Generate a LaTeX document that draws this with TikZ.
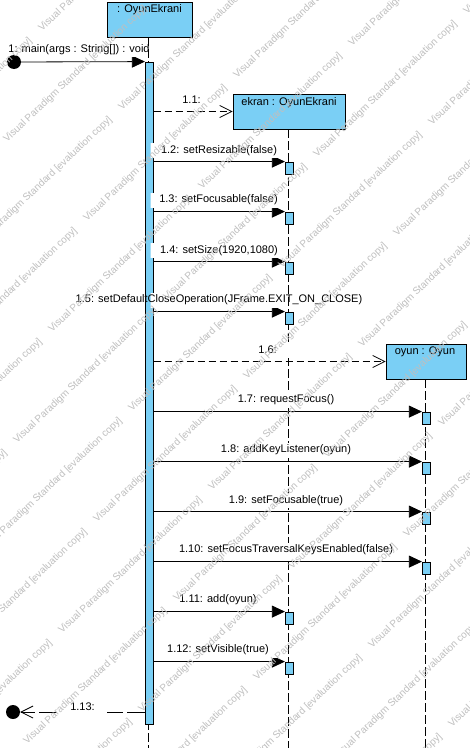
\documentclass[tikz,border=0pt]{standalone}
\usepackage{fontspec}
\setmainfont{Liberation Sans}
\usetikzlibrary{arrows.meta,calc}
\definecolor{vpblue}{RGB}{122,207,245}
\pgfdeclarelayer{base}
\pgfdeclarelayer{lbg}
\pgfdeclarelayer{wmark}
\pgfsetlayers{base,lbg,main,wmark}
\newcommand{\lblbg}[3]{%
  \begin{pgfonlayer}{lbg}
  \begin{scope}
  \clip (#2,0) rectangle (#3,748);
  \fill[white] ($(#1.west)+(-12,-7.5)$) rectangle ($(#1.east)+(12,7.5)$);
  \end{scope}
  \end{pgfonlayer}}
\begin{document}
\begin{tikzpicture}[x=1bp,y=-1bp,
  lbl/.style={font=\fontsize{11bp}{13bp}\selectfont, inner sep=0pt, anchor=center},
  lifebox/.style={draw=black, fill=vpblue, line width=0.9bp, inner sep=0pt},
  lifeline/.style={line width=0.8bp, dash pattern=on 9bp off 3bp},
  actbar/.style={draw=black, fill=vpblue, line width=0.8bp, inner sep=0pt, minimum width=8bp},
  actbox/.style={actbar, minimum height=12bp},
  syncmsg/.style={line width=0.8bp, -{Triangle[length=13bp,width=12bp]}},
  createmsg/.style={line width=0.8bp, dash pattern=on 7bp off 4bp, -{Straight Barb[length=12bp,width=12bp]}},
  retmsg/.style={line width=0.8bp, dash pattern=on 18bp off 4bp, -{Straight Barb[length=12bp,width=12bp]}},
  dot/.style={circle, fill=black, minimum size=14bp, inner sep=0pt},
  wm/.style={font=\fontsize{10bp}{12bp}\selectfont, text=black!25, rotate=43.6, anchor=base west, inner sep=0pt}
]
\useasboundingbox (0,0) rectangle (470,748);
\begin{pgfonlayer}{base}
\fill[white] (0,0) rectangle (470,748);
% lifeline heads
\node[lifebox, minimum width=85bp, minimum height=35bp] (oe) at (149.5,19.5) {};
\node[lifebox, minimum width=112bp, minimum height=35bp] (ek) at (289,111.5) {};
\node[lifebox, minimum width=80bp, minimum height=35bp] (oy) at (426,361.5) {};
% lifelines
\coordinate (oeEnd) at (148.3,748);
\coordinate (ekEnd) at (288.3,748);
\coordinate (oyEnd) at (425.7,748);
\draw[lifeline] (oe.south -| oeEnd) -- (oeEnd);
\draw[lifeline] (ek.south -| ekEnd) -- (ekEnd);
\draw[lifeline] (oy.south -| oyEnd) -- (oyEnd);
% activation bars
\node[actbar, minimum height=662bp] (bar) at (149.3,393) {};
\node[actbox] (a12) at (289.3,168) {};
\node[actbox] (a13) at (289.3,218) {};
\node[actbox] (a14) at (289.3,268) {};
\node[actbox] (a15) at (289.3,318) {};
\node[actbox] (a17) at (426.3,418) {};
\node[actbox] (a18) at (426.3,468) {};
\node[actbox] (a19) at (426.3,518) {};
\node[actbox] (a110) at (426.3,568) {};
\node[actbox] (a111) at (289.3,618) {};
\node[actbox] (a112) at (289.3,668) {};
% start / end points
\node[dot] (start) at (14,62) {};
\node[dot] (stop) at (13,712) {};
% messages
\draw[syncmsg] (start) -- (bar.north west);
\draw[createmsg] (bar.east |- ek.west) -- (ek.west);
\draw[syncmsg] (bar.east |- a12.north west) -- (a12.north west);
\draw[syncmsg] (bar.east |- a13.north west) -- (a13.north west);
\draw[syncmsg] (bar.east |- a14.north west) -- (a14.north west);
\draw[syncmsg] (bar.east |- a15.north west) -- (a15.north west);
\draw[createmsg] (bar.east |- oy.west) -- (oy.west);
\draw[syncmsg] (bar.east |- a17.north west) -- (a17.north west);
\draw[syncmsg] (bar.east |- a18.north west) -- (a18.north west);
\draw[syncmsg] (bar.east |- a19.north west) -- (a19.north west);
\draw[syncmsg] (bar.east |- a110.north west) -- (a110.north west);
\draw[syncmsg] (bar.east |- a111.north west) -- (a111.north west);
\draw[syncmsg] (bar.east |- a112.north west) -- (a112.north west);
\draw[retmsg] (bar.west |- stop) -- (stop);
\end{pgfonlayer}
% lifeline head texts
\node[lbl] (oeT) at (149.5,10) {: OyunEkrani};
\node[lbl] (ekT) at (289,102.7) {ekran : OyunEkrani};
\node[lbl] (oyT) at (425,352) {oyun : Oyun};
% message labels
\node[lbl] (l1) at (79,50) {1: main(args : String[]) : void};
\node[lbl] (l11) at (191.5,100) {1.1:};
\node[lbl] (l12) at (219,150.5) {1.2: setResizable(false)};
\node[lbl] (l13) at (218.5,200) {1.3: setFocusable(false)};
\node[lbl] (l14) at (219,250.5) {1.4: setSize(1920,1080)};
\node[lbl] (l15) at (219,300) {1.5: setDefaultCloseOperation(JFrame.EXIT\_ON\_CLOSE)};
\node[lbl] (l16) at (267.5,350) {1.6:};
\node[lbl] (l17) at (286,400) {1.7: requestFocus()};
\node[lbl] (l18) at (286,450) {1.8: addKeyListener(oyun)};
\node[lbl] (l19) at (286,500.5) {1.9: setFocusable(true)};
\node[lbl] (l110) at (286,550) {1.10: setFocusTraversalKeysEnabled(false)};
\node[lbl] (l111) at (218,600) {1.11: add(oyun)};
\node[lbl] (l112) at (218,650) {1.12: setVisible(true)};
\node[lbl] (l113) at (82.5,707) {1.13:};
% label backgrounds (clipped to the message span)
\lblbg{l1}{21}{145.3}
\lblbg{l11}{150.7}{233}
\lblbg{l12}{150.7}{285.3}
\lblbg{l13}{150.7}{285.3}
\lblbg{l14}{150.7}{285.3}
\lblbg{l15}{150.7}{285.3}
\lblbg{l16}{150.7}{386}
\lblbg{l17}{150.7}{422.3}
\lblbg{l18}{150.7}{422.3}
\lblbg{l19}{150.7}{422.3}
\lblbg{l110}{150.7}{422.3}
\lblbg{l111}{150.7}{285.3}
\lblbg{l112}{150.7}{285.3}
\lblbg{l113}{20}{145.3}
% watermark (only the copies that reach the canvas)
\begin{pgfonlayer}{wmark}
\begin{scope}
\clip (0,0) rectangle (470,748);
\foreach \i in {-6,...,6} {
  \foreach \j in {-3,...,11} {
    \pgfmathsetmacro\wx{7+115*\i+80*\j}
    \pgfmathsetmacro\wy{143-32*\i+79*\j}
    \ifdim\wx pt>-140pt \ifdim\wx pt<470pt \ifdim\wy pt>0pt \ifdim\wy pt<880pt
      \node[wm] (wm\i x\j) at (\wx,\wy) {Visual Paradigm Standard [evaluation copy]};
    \fi\fi\fi\fi
  }
}
\end{scope}
\end{pgfonlayer}
\end{tikzpicture}
\end{document}
